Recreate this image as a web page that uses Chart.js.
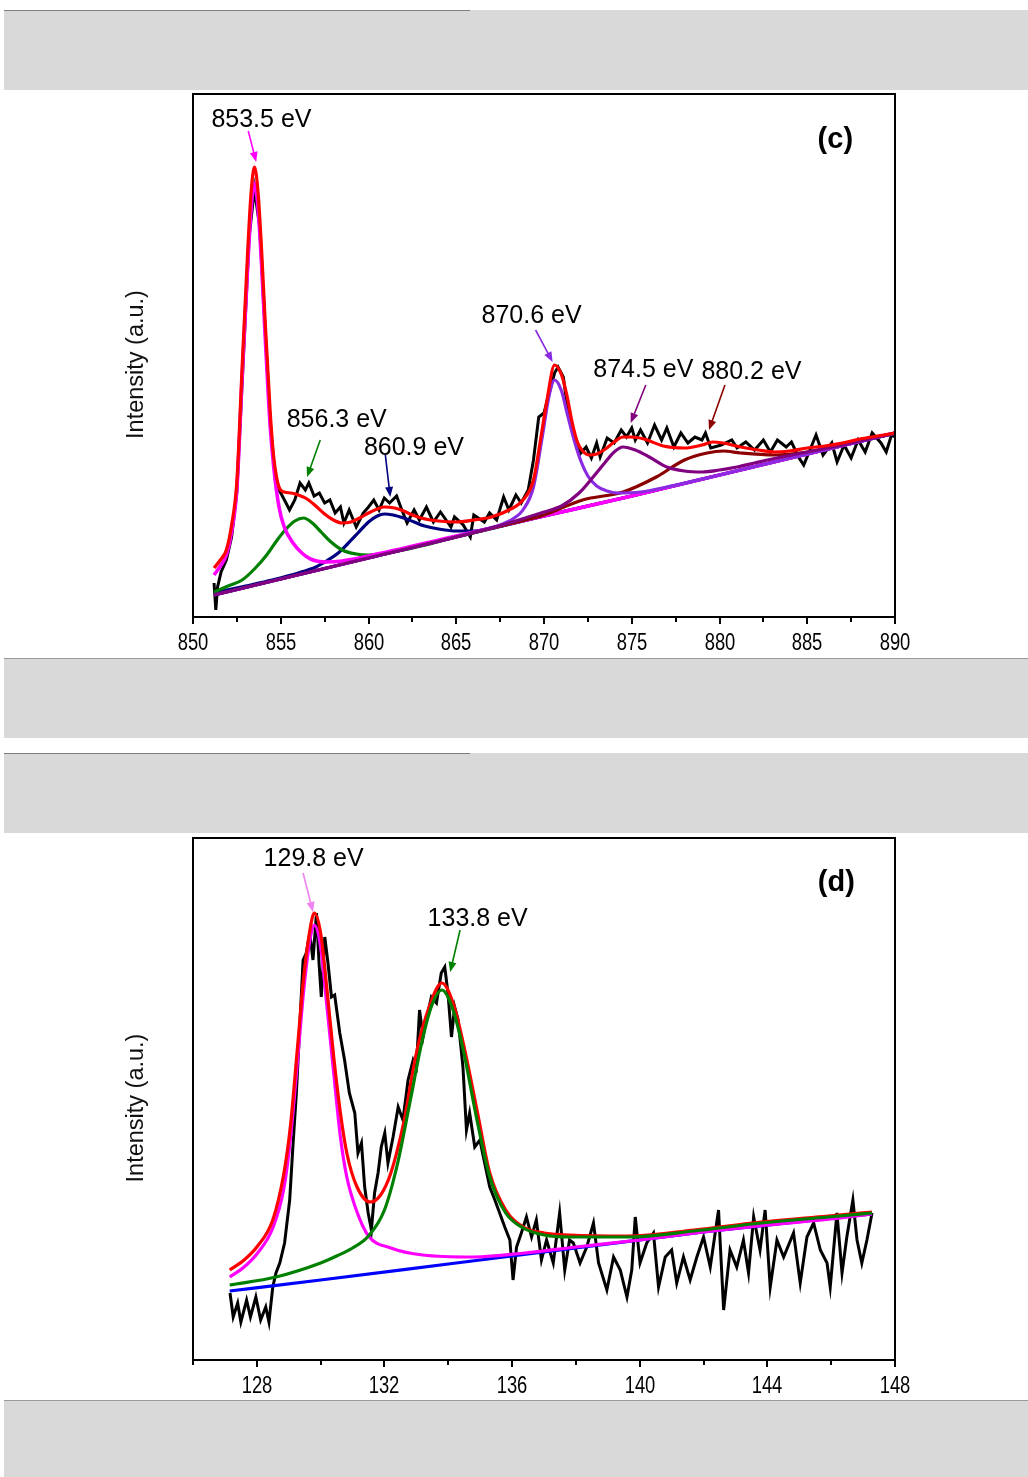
<!DOCTYPE html>
<html lang="en">
<head>
<meta charset="UTF-8">
<title>XPS Ni 2p and P 2p</title>
<style>
  body {
    margin: 0;
    width: 1028px;
    height: 1477px;
    position: relative;
    overflow: hidden;
    background: #fff;
  }
  .band { position: absolute; left: 4px; width: 1024px; height: 80px; background: #d9d9d9; }
  .rule { position: absolute; left: 4px; height: 1px; background: #7d7d7d; }
  canvas { position: absolute; left: 0; }
</style>
</head>
<body>
<!-- page separators -->
<div class="band" style="top:10px"></div>
<div class="rule" style="top:10px;width:466px"></div>
<div class="band" style="top:658px"></div>
<div class="rule" style="top:658px;width:1024px;background:#9a9a9a"></div>
<div class="band" style="top:753px"></div>
<div class="rule" style="top:753px;width:466px"></div>
<div class="band" style="top:1400px;height:77px"></div>
<div class="rule" style="top:1400px;width:1024px;background:#9a9a9a"></div>

<canvas id="niChart" width="1028" height="580" style="top:80px"></canvas>
<canvas id="pChart" width="1028" height="580" style="top:825px"></canvas>

<script src="https://cdn.jsdelivr.net/npm/chart.js"></script>
<script>
// ---------- Ni 2p (850 - 890 eV) ----------
const niRawX = [851.2, 851.3, 851.4, 851.6, 851.9, 852.2, 852.5, 852.9, 853.2, 853.5, 853.8, 854.1, 854.4, 854.7, 854.8,
  855.0, 855.3, 855.5, 855.8, 856.1, 856.4, 856.6, 856.9, 857.2, 857.5, 857.8, 858.1, 858.4, 858.6, 858.9, 859.3, 859.7,
  860.0, 860.3, 860.6, 860.9, 861.2, 861.6, 861.9, 862.2, 862.6, 862.9, 863.3, 863.7, 864.1, 864.7, 864.9, 865.4, 865.8,
  866.0, 866.6, 866.9, 867.3, 867.7, 868.0, 868.4, 868.7, 869.1, 869.4, 869.7, 870.0, 870.3, 870.6, 870.8, 871.1, 871.3,
  871.6, 871.9, 872.1, 872.4, 872.7, 873.0, 873.2, 873.6, 874.0, 874.4, 874.7, 875.0, 875.2, 875.5, 875.9, 876.3, 876.7,
  877.0, 877.4, 877.8, 878.2, 878.6, 879.0, 879.2, 879.5, 880.1, 880.7, 881.0, 881.5, 882.0, 882.5, 882.9, 883.3, 883.8,
  884.1, 884.5, 884.8, 885.2, 885.5, 885.9, 886.4, 886.7, 887.1, 887.5, 887.9, 888.3, 888.7, 889.2, 889.5, 889.8, 890.0];
const niRawY = [34, 7, 30, 45, 57, 80, 125, 270, 380, 428, 390, 290, 195, 135, 130,
  124, 114, 107, 117, 134, 127, 134, 121, 124, 114, 117, 104, 110, 94, 107, 90, 104,
  110, 117, 107, 119, 114, 121, 107, 94, 107, 97, 110, 95, 105, 90, 100, 92, 80,
  102, 95, 104, 97, 120, 107, 122, 114, 127, 157, 200, 204, 224, 244, 250, 240, 214,
  190, 174, 164, 170, 159, 174, 160, 179, 174, 187, 180, 189, 177, 187, 174, 192, 177,
  189, 170, 184, 174, 180, 177, 184, 169, 172, 177, 169, 175, 167, 177, 165, 177, 170,
  175, 160, 152, 169, 182, 162, 174, 155, 172, 159, 177, 165, 184, 174, 165, 182, 180];

const niEnvX = [851.2, 851.6, 851.9, 852.2, 852.5, 852.8, 853.1, 853.3, 853.5, 853.7, 853.9, 854.1, 854.4, 854.6, 854.9,
  855.2, 855.6, 856.0, 856.5, 857.0, 857.5, 858.0, 858.5, 859.0, 859.5, 860.0, 860.5, 860.9, 861.5, 862.0, 862.5, 863.0,
  864.0, 865.0, 866.0, 867.0, 868.0, 868.8, 869.4, 869.8, 870.2, 870.6, 871.0, 871.3, 871.6, 871.9, 872.2, 872.6, 873.0,
  873.5, 874.0, 874.5, 875.0, 875.7, 876.8, 878.0, 879.0, 879.6, 880.2, 881.2, 882.2, 883.1, 884.0, 885.0, 886.0, 887.0,
  888.0, 889.0, 890.0];
const niEnvY = [49, 58, 67, 92, 136, 250, 360, 422, 450, 426, 370, 300, 205, 160, 130,
  125, 124, 122, 118, 111, 103, 97, 94, 95, 99, 104, 108, 110, 109, 106, 102, 99,
  96, 95, 97, 100, 107, 117, 137, 177, 220, 252, 242, 222, 195, 175, 166, 162, 163,
  168, 175, 180, 180, 178, 171, 169, 172, 175, 174, 170, 167, 165, 166, 169, 171, 174,
  178, 181, 184];

const niBaseX = [851.2, 855, 860, 865, 870, 875, 880, 885, 890];
const niBaseY = [22, 38, 59, 80, 101, 121, 142, 163, 184];

const ni8535X = [851.2, 851.6, 851.9, 852.2, 852.5, 852.8, 853.1, 853.3, 853.5, 853.7, 853.9, 854.1, 854.4, 854.6,
  854.9, 855.2, 855.7, 856.2, 856.7, 857.6, 858.5, 860, 865, 870, 875, 880, 885, 890];
const ni8535Y = [42, 52, 62, 85, 128, 240, 345, 405, 434, 410, 355, 285, 190, 150,
  110, 90, 74, 64, 58, 55, 56, 61, 81, 101, 121, 142, 163, 184];

const ni8563X = [851.2, 852, 852.8, 853.5, 854.2, 854.8, 855.3, 855.8, 856.3, 856.8, 857.3, 857.8, 858.5, 859.3,
  860, 861, 862, 863, 865, 870, 875, 880, 885, 890];
const ni8563Y = [25, 31, 37, 48, 62, 77, 88, 96, 99, 94, 85, 76, 67, 63,
  62, 64, 67, 71, 80, 101, 121, 142, 163, 184];

const ni8609X = [851.2, 853, 854.5, 856, 857, 857.6, 858.2, 858.8, 859.4, 860, 860.5, 860.9, 861.4, 862, 862.6,
  863.2, 864, 865, 866, 867, 868, 870, 875, 880, 885, 890];
const ni8609Y = [24, 31, 37, 44, 50, 56, 63, 73, 84, 95, 101, 103, 102, 99, 95,
  91, 88, 86, 86, 89, 93, 101, 121, 142, 163, 184];

const ni8706X = [851.2, 860, 865, 866.5, 867.5, 868.3, 868.8, 869.4, 869.9, 870.3, 870.6, 871.0, 871.3, 871.7,
  872.1, 872.5, 873.0, 873.6, 874.2, 875.5, 877, 880, 885, 890];
const ni8706Y = [22, 59, 80, 87, 92, 99, 107, 130, 180, 222, 237, 226, 205, 178,
  156, 141, 131, 126, 124, 125, 130, 142, 163, 184];

const ni8745X = [851.2, 860, 865, 868, 870, 871, 872, 872.8, 873.5, 874, 874.5, 875.2, 876, 877, 878, 879,
  880, 881, 882, 883, 885, 887, 890];
const ni8745Y = [22, 59, 80, 94, 105, 111, 124, 140, 155, 165, 170, 167, 160, 150, 146, 145,
  147, 150, 154, 158, 165, 172, 184];

const ni8802X = [851.2, 860, 865, 868, 870, 872.2, 874.5, 876.4, 878, 879.3, 880.2, 881.2, 883.1, 885, 887, 890];
const ni8802Y = [22, 59, 80, 93, 102, 117, 125, 140, 157, 164, 166, 164, 162, 165, 172, 184];

const niTicks = { min: 850, max: 890, major: 5, minor: 2.5, first: 850, firstMajor: 850 };

// ---------- P 2p (126 - 148 eV) ----------
const pRawX = [127.16, 127.26, 127.4, 127.5, 127.68, 127.8, 127.97, 128.12, 128.28, 128.38, 128.5, 128.6, 128.72,
  128.87, 129.03, 129.13, 129.24, 129.34, 129.45, 129.55, 129.66, 129.76, 129.87, 129.95, 130.02, 130.13, 130.23,
  130.34, 130.44, 130.6, 130.75, 130.9, 131.07, 131.17, 131.28, 131.38, 131.49, 131.59, 131.69, 131.8, 131.9,
  132.01, 132.11, 132.27, 132.43, 132.58, 132.74, 132.9, 133.0, 133.1, 133.21, 133.31, 133.47, 133.63, 133.78,
  133.89, 133.99, 134.1, 134.2, 134.31, 134.46, 134.57, 134.67, 134.83, 134.99, 135.14, 135.3, 135.46, 135.61,
  135.77, 135.93, 136.03, 136.14, 136.29, 136.45, 136.61, 136.76, 136.92, 137.08, 137.29, 137.49, 137.65, 137.8,
  137.92, 138.13, 138.34, 138.55, 138.71, 138.97, 139.18, 139.39, 139.6, 139.75, 139.86, 140.01, 140.22, 140.43,
  140.59, 140.8, 141.0, 141.16, 141.37, 141.58, 141.79, 142.0, 142.21, 142.47, 142.63, 142.83, 143.04, 143.25,
  143.41, 143.57, 143.77, 143.93, 144.09, 144.3, 144.51, 144.82, 145.03, 145.24, 145.45, 145.66, 145.87, 145.97,
  146.18, 146.34, 146.49, 146.68, 146.81, 146.96, 147.12, 147.28];
const pRawY = [67, 43, 57, 38, 60, 43, 63, 40, 53, 38, 73, 87, 97,
  117, 160, 213, 267, 330, 400, 407, 427, 400, 447, 397, 363, 423, 397,
  363, 365, 327, 300, 267, 247, 207, 217, 173, 147, 130, 167, 187, 213,
  227, 197, 223, 253, 240, 280, 300, 293, 350, 323, 340, 363, 357, 387,
  393, 367, 323, 353, 340, 293, 230, 247, 213, 220, 197, 173, 160, 147,
  133, 120, 80, 113, 127, 143, 123, 140, 100, 120, 97, 147, 90, 120,
  117, 97, 113, 137, 97, 70, 103, 90, 63, 90, 143, 97, 117, 127,
  73, 103, 110, 77, 103, 80, 103, 123, 93, 150, 50, 110, 93, 120,
  87, 143, 110, 150, 73, 120, 103, 127, 77, 123, 137, 110, 97, 73,
  147, 87, 123, 160, 120, 97, 120, 147];

const pEnvX = [127.15, 127.6, 128.0, 128.5, 128.85, 129.05, 129.26, 129.47, 129.68, 129.8, 130.0, 130.2, 130.41,
  130.62, 130.82, 131.14, 131.56, 131.88, 132.2, 132.6, 133.0, 133.4, 133.8, 134.15, 134.47, 134.9, 135.3, 135.8,
  136.35, 137.0, 137.8, 139.6, 141.7, 143.8, 145.9, 147.28];
const pEnvY = [90, 100, 113, 140, 187, 233, 307, 383, 433, 447, 427, 370, 303,
  247, 207, 173, 158, 165, 187, 237, 307, 353, 377, 357, 317, 250, 187, 150,
  133, 127, 125, 124, 130, 138, 144, 148];

const pBaseX = [127.15, 130, 134, 138, 142, 147.28];
const pBaseY = [69, 80, 96, 112, 128, 146];

const p1298X = [127.15, 127.6, 128.0, 128.5, 128.85, 129.05, 129.26, 129.47, 129.68, 129.8, 130.0, 130.2, 130.41,
  130.62, 130.82, 131.14, 131.5, 132.2, 133.2, 134.8, 136.4, 138, 140, 142, 144, 146, 147.28];
const p1298Y = [83, 93, 106, 132, 172, 220, 293, 370, 423, 435, 413, 353, 287,
  223, 183, 148, 124, 112, 105, 103, 107, 113, 120, 128, 135, 141, 146];

const p1338X = [127.15, 128.6, 130.0, 130.5, 131.0, 131.5, 132.0, 132.4, 132.8, 133.2, 133.5, 133.8, 134.15,
  134.47, 134.9, 135.3, 135.8, 136.35, 137.0, 137.8, 139.6, 141.7, 143.8, 145.9, 147.28];
const p1338Y = [75, 83, 97, 104, 112, 124, 150, 195, 258, 322, 356, 370, 350,
  310, 240, 183, 147, 132, 125, 123, 123, 129, 137, 143, 147];

const pTicks = { min: 126, max: 148, major: 4, minor: 2, first: 126, firstMajor: 128 };

const FONT = 'Arial, "Liberation Sans", sans-serif';
Chart.defaults.font.family = FONT;

const pts = (xs, ys) => xs.map((x, i) => ({ x, y: ys[i] }));

function curve(label, xs, ys, color, width) {
  return {
    label, data: pts(xs, ys), borderColor: color, borderWidth: width || 3.2,
    pointRadius: 0, fill: false, cubicInterpolationMode: 'monotone'
  };
}

function raw(xs, ys) {
  return { label: 'raw', data: pts(xs, ys), borderColor: '#000', borderWidth: 3, pointRadius: 0, fill: false, tension: 0 };
}

function arrow(ctx, x0, y0, x1, y1, color) {
  const ang = Math.atan2(y1 - y0, x1 - x0);
  const len = 10, half = 4;
  ctx.strokeStyle = color;
  ctx.fillStyle = color;
  ctx.lineWidth = 1.6;
  ctx.beginPath();
  ctx.moveTo(x0, y0);
  ctx.lineTo(x1 - Math.cos(ang) * len * 0.8, y1 - Math.sin(ang) * len * 0.8);
  ctx.stroke();
  ctx.beginPath();
  ctx.moveTo(x1, y1);
  ctx.lineTo(x1 - Math.cos(ang) * len + Math.sin(ang) * half, y1 - Math.sin(ang) * len - Math.cos(ang) * half);
  ctx.lineTo(x1 - Math.cos(ang) * len - Math.sin(ang) * half, y1 - Math.sin(ang) * len + Math.cos(ang) * half);
  ctx.closePath();
  ctx.fill();
}

// box, ticks and tick labels, peak labels and axis title
const decor = {
  id: 'decor',
  afterDraw(chart, args, opts) {
    const { ctx, chartArea: a, scales: { x, y } } = chart;
    ctx.save();
    ctx.strokeStyle = '#000';
    ctx.lineWidth = 2;
    ctx.strokeRect(a.left, a.top, a.right - a.left, a.bottom - a.top);

    const t = opts.ticks;
    ctx.textAlign = 'center';
    ctx.textBaseline = 'middle';
    ctx.fillStyle = '#000';
    for (let v = t.first; v <= t.max + 1e-6; v += t.minor) {
      const k = (v - t.firstMajor) / t.major;
      const isMajor = Math.abs(k - Math.round(k)) < 1e-6;
      const px = Math.round(x.getPixelForValue(v));
      ctx.beginPath();
      ctx.moveTo(px, a.bottom);
      ctx.lineTo(px, a.bottom + (isMajor ? 7 : 5));
      ctx.stroke();
      if (isMajor) {
        // labels are set in a narrow face
        ctx.save();
        ctx.translate(px, a.bottom + 27);
        ctx.scale(0.8, 1);
        ctx.font = '23px ' + FONT;
        ctx.fillText(String(Math.round(v)), 0, 0);
        ctx.restore();
      }
    }

    ctx.font = '25px ' + FONT;
    opts.notes.forEach(n => {
      ctx.fillStyle = '#000';
      ctx.fillText(n.text, x.getPixelForValue(n.at[0]), y.getPixelForValue(n.at[1]));
      arrow(ctx, x.getPixelForValue(n.from[0]), y.getPixelForValue(n.from[1]),
        x.getPixelForValue(n.to[0]), y.getPixelForValue(n.to[1]), n.color);
    });

    ctx.fillStyle = '#000';
    ctx.font = 'bold 29px ' + FONT;
    ctx.fillText(opts.tag.text, x.getPixelForValue(opts.tag.at[0]), y.getPixelForValue(opts.tag.at[1]));

    ctx.font = '23.5px ' + FONT;
    ctx.translate(a.left - 56, (a.top + a.bottom) / 2 + 9);
    ctx.rotate(-Math.PI / 2);
    ctx.fillStyle = '#111';
    ctx.fillText('Intensity (a.u.)', 0, 0);
    ctx.restore();
  }
};

function makeChart(id, datasets, t, yMax, pad, decorOpts) {
  return new Chart(document.getElementById(id), {
    type: 'line',
    data: { datasets },
    plugins: [decor],
    options: {
      responsive: false,
      animation: false,
      layout: { padding: pad },
      plugins: { legend: { display: false }, tooltip: { enabled: false }, decor: decorOpts },
      scales: {
        x: {
          type: 'linear', min: t.min, max: t.max,
          grid: { display: false, drawTicks: false },
          border: { display: false },
          ticks: { display: false, stepSize: t.major },
          afterFit: s => { s.height = 40; }
        },
        y: { display: false, min: 0, max: yMax }
      }
    }
  });
}

// first dataset is drawn on top
makeChart('niChart', [
  curve('envelope', niEnvX, niEnvY, '#FF0000'),
  curve('874.5', ni8745X, ni8745Y, '#800080'),
  curve('870.6', ni8706X, ni8706Y, '#8A2BE2'),
  curve('880.2', ni8802X, ni8802Y, '#8B0000'),
  curve('853.5', ni8535X, ni8535Y, '#FF00FF', 3.6),
  curve('856.3', ni8563X, ni8563Y, '#008000'),
  curve('860.9', ni8609X, ni8609Y, '#000080'),
  curve('background', niBaseX, niBaseY, '#0000FF'),
  raw(niRawX, niRawY)
], niTicks, 523, { left: 193, right: 133, top: 14, bottom: 3 }, {
  ticks: niTicks,
  tag: { text: '(c)', at: [886.6, 477] },
  notes: [
    { text: '853.5 eV', at: [853.9, 497], from: [853.15, 486], to: [853.6, 455], color: '#FF00FF' },
    { text: '856.3 eV', at: [858.19, 197], from: [857.25, 177], to: [856.5, 140], color: '#008000' },
    { text: '860.9 eV', at: [862.59, 169], from: [860.96, 162], to: [861.24, 120], color: '#000080' },
    { text: '870.6 eV', at: [869.29, 301], from: [869.52, 287], to: [870.49, 255], color: '#8A2BE2' },
    { text: '874.5 eV', at: [875.66, 247], from: [875.8, 232], to: [874.94, 194], color: '#800080' },
    { text: '880.2 eV', at: [881.82, 245], from: [880.31, 232], to: [879.4, 187], color: '#8B0000' }
  ]
});

makeChart('pChart', [
  curve('133.8', p1338X, p1338Y, '#008000'),
  curve('envelope', pEnvX, pEnvY, '#FF0000'),
  curve('129.8', p1298X, p1298Y, '#FF00FF'),
  curve('background', pBaseX, pBaseY, '#0000FF'),
  raw(pRawX, pRawY)
], pTicks, 522, { left: 193, right: 133, top: 13, bottom: 5 }, {
  ticks: pTicks,
  tag: { text: '(d)', at: [146.16, 477] },
  notes: [
    { text: '129.8 eV', at: [129.78, 501], from: [129.45, 487], to: [129.76, 448], color: '#EE82EE' },
    { text: '133.8 eV', at: [134.92, 441], from: [134.37, 430], to: [134.06, 388], color: '#008000' }
  ]
});
</script>
</body>
</html>
